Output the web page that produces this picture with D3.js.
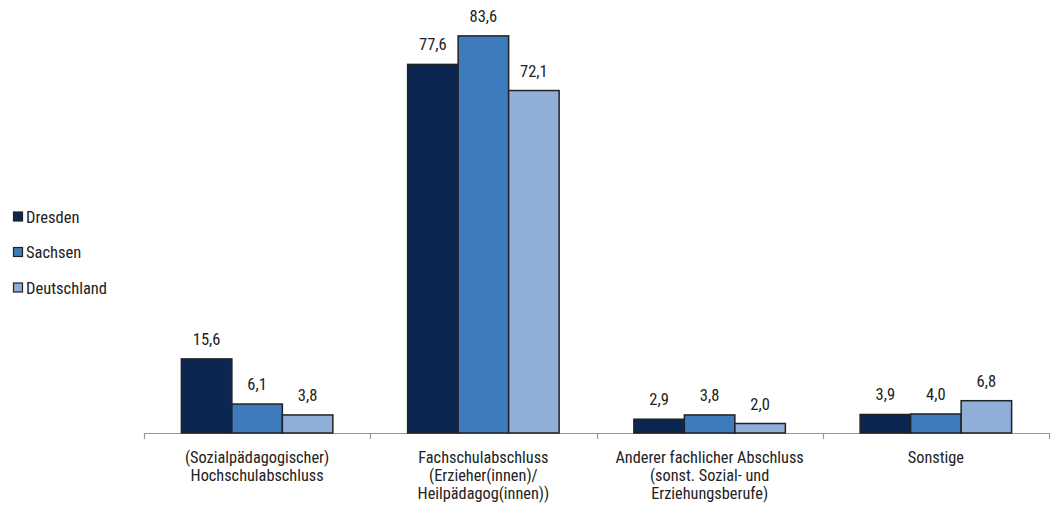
<!DOCTYPE html>
<html><head><meta charset="utf-8">
<script src="https://cdn.jsdelivr.net/npm/d3@7"></script>
<style>body{margin:0;background:#fff}svg{display:block}text{font-family:"Liberation Sans Narrow","Roboto Condensed","Liberation Sans",Arial,sans-serif;fill:#222}</style>
</head><body><svg id="c" width="1057" height="508"></svg>
<script>
const categories = [["(Sozialpädagogischer)","Hochschulabschluss"],["Fachschulabschluss","(Erzieher(innen)/","Heilpädagog(innen))"],["Anderer fachlicher Abschluss","(sonst. Sozial- und","Erziehungsberufe)"],["Sonstige"]];
const seriesNames = ["Dresden","Sachsen","Deutschland"];
const dresden = [15.6, 77.6, 2.9, 3.9];
const sachsen = [6.1, 83.6, 3.8, 4.0];
const deutschland = [3.8, 72.1, 2.0, 6.8];
const colors = ["#0b2751","#3e7bbd","#8fafd8"];

const series = [dresden, sachsen, deutschland];
const svg = d3.select("#c");
const x0 = d3.scaleBand().domain(d3.range(categories.length)).range([144,1049]).paddingInner(0).paddingOuter(0);
const x1 = d3.scaleBand().domain(d3.range(3)).range([0, x0.bandwidth()]).paddingInner(0).paddingOuter(0.74);
const y = d3.scaleLinear().domain([0,90]).range([433, 5.5]);
const fmt = v => v.toFixed(1).replace(".", ",");

// axis
const ax = svg.append("g");
ax.append("line").attr("x1",144).attr("x2",1049).attr("y1",433.5).attr("y2",433.5).attr("stroke","#999").attr("stroke-width",1.2);
d3.range(categories.length+1).forEach(i=>{
  const xx = i<categories.length ? x0(i) : x0.range()[1];
  ax.append("line").attr("x1",Math.round(xx)+0.5).attr("x2",Math.round(xx)+0.5).attr("y1",433).attr("y2",439).attr("stroke","#999").attr("stroke-width",1.2);
});

const g = svg.append("g");
categories.forEach((c,i)=>{
  series.forEach((s,j)=>{
    const bx = x0(i)+x1(j);
    g.append("rect").attr("x",bx).attr("y",y(s[i])).attr("width",x1.bandwidth()).attr("height",y(0)-y(s[i]))
      .attr("fill",colors[j]).attr("stroke","#222").attr("stroke-width",1.5);
    g.append("text").attr("x",bx+x1.bandwidth()/2).attr("y",y(s[i])-14).attr("text-anchor","middle").attr("font-size",16.5).text(fmt(s[i]));
  });
  const t = g.append("text").attr("x",x0(i)+x0.bandwidth()/2).attr("y",463).attr("text-anchor","middle").attr("font-size",16.3);
  c.forEach((line,k)=>t.append("tspan").attr("x",x0(i)+x0.bandwidth()/2).attr("dy",k?18:0).text(line));
});

// legend
seriesNames.forEach((n,j)=>{
  const ly = 217 + j*35.5;
  svg.append("rect").attr("x",13.5).attr("y",ly-5).attr("width",9).attr("height",9).attr("fill",colors[j]).attr("stroke","#222").attr("stroke-width",1.2);
  svg.append("text").attr("x",26).attr("y",ly+5.5).attr("font-size",16.5).text(n);
});
</script></body></html>
